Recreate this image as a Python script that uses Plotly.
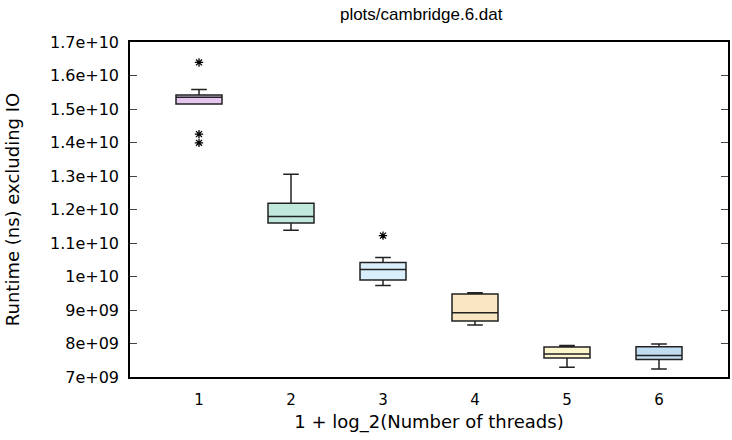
import plotly.graph_objects as go

categories = [1, 2, 3, 4, 5, 6]
q1 = [1.515e10, 1.160e10, 9.895e9, 8.67e9, 7.57e9, 7.52e9]
median = [1.535e10, 1.179e10, 1.021e10, 8.92e9, 7.684e9, 7.64e9]
q3 = [1.542e10, 1.219e10, 1.042e10, 9.477e9, 7.893e9, 7.904e9]
lowerfence = [1.515e10, 1.138e10, 9.734e9, 8.55e9, 7.29e9, 7.24e9]
upperfence = [1.558e10, 1.305e10, 1.057e10, 9.516e9, 7.943e9, 7.985e9]
outlier_x = [1, 1, 1, 3]
outlier_y = [1.639e10, 1.425e10, 1.399e10, 1.122e10]
fills = ["#e4c6f0", "#c0e8dc", "#daeffc", "#fae6c2", "#fdf6cc", "#c0ddf1"]

fig = go.Figure()
for i, c in enumerate(categories):
    fig.add_trace(go.Box(
        x=[c], q1=[q1[i]], median=[median[i]], q3=[q3[i]],
        lowerfence=[lowerfence[i]], upperfence=[upperfence[i]],
        width=0.5, whiskerwidth=0.34,
        fillcolor=fills[i], line=dict(color="#222222", width=1.5),
        boxpoints=False, showlegend=False, hoverinfo="skip",
    ))

fig.add_trace(go.Scatter(
    x=outlier_x, y=outlier_y, mode="markers",
    marker=dict(symbol="asterisk-open", size=7, color="black",
                line=dict(color="black", width=1.3)),
    showlegend=False,
))

fig.update_layout(
    width=732, height=440,
    margin=dict(l=130, r=2, t=42, b=63),
    paper_bgcolor="white", plot_bgcolor="white",
    font=dict(family="DejaVu Sans", size=15, color="black"),
    title=dict(text="plots/cambridge.6.dat", x=0.487, xref="paper", xanchor="center",
               y=1 - 14 / 440, yanchor="middle",
               font=dict(family="Liberation Sans", size=17, color="black")),
    xaxis=dict(range=[0.25, 6.75], tickmode="array", tickvals=categories,
               ticktext=[str(c) for c in categories], ticks="",
               showline=True, linecolor="black", linewidth=1.5, mirror=True,
               showgrid=False, zeroline=False, ticklabelstandoff=8,
               title=dict(text="1 + log_2(Number of threads)", standoff=8),
               tickfont=dict(size=15)),
    yaxis=dict(range=[7e9, 1.7e10], tickmode="array",
               tickvals=[7e9 + i * 1e9 for i in range(11)],
               ticktext=["7e+09", "8e+09", "9e+09", "1e+10", "1.1e+10", "1.2e+10",
                         "1.3e+10", "1.4e+10", "1.5e+10", "1.6e+10", "1.7e+10"],
               ticks="inside", ticklen=7, tickcolor="#444", tickwidth=1.2,
               showline=True, linecolor="black", linewidth=1.5, mirror="ticks",
               showgrid=False, zeroline=False, ticklabelstandoff=6,
               title=dict(text="Runtime (ns) excluding IO", standoff=26),
               tickfont=dict(size=16)),
)

fig.write_html("out.html")
